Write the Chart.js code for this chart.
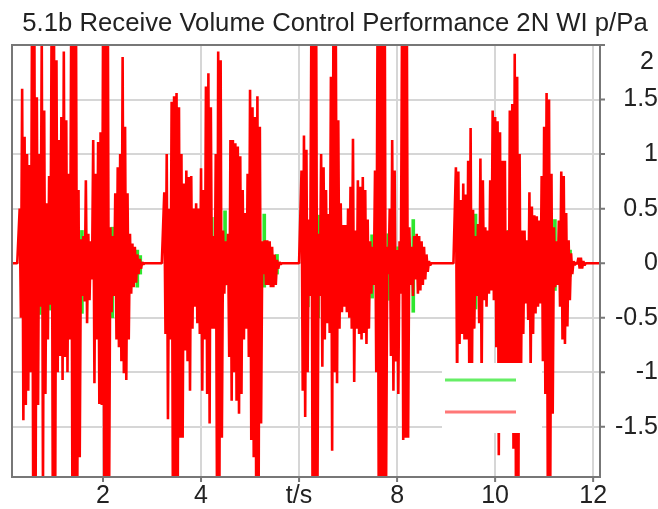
<!DOCTYPE html>
<html><head><meta charset="utf-8">
<script src="https://cdn.jsdelivr.net/npm/chart.js@4/dist/chart.umd.min.js"></script>
<style>html,body{margin:0;padding:0;background:#fff}canvas{display:block}</style>
</head><body>
<canvas id="c" width="658" height="509"></canvas>
<script>
const TITLE = '5.1b Receive Volume Control Performance 2N WI p/Pa';
const X_MIN = 0.143, X_MAX = 12.14;
const Y_MIN = -1.96, Y_MAX = 2.0;
const xTicks = [2, 4, 6, 8, 10, 12];
const xTickLabels = ['2', '4', 't/s', '8', '10', '12'];
const yTicks = [-1.5, -1, -0.5, 0, 0.5, 1, 1.5, 2];
const yTickLabels = ['-1.5', '-1', '-0.5', '0', '0.5', '1', '1.5', '2'];
const STEP = 0.05; // sample spacing of the envelope (s)

// Red trace: envelope peaks (upper / lower) per 0.05 s, per speech burst
const b1Start = 0.30;
const b1Hi = [0.5,1.6,1.16,1.0,0.9,2.1,2.1,1.52,1.0,2.1,1.4,0.55,0.8,2.1,2.1,1.86,1.13,1.34,1.94,1.31,0.82,2.1,2.1,2.1,0.67,0.22,0.25,0.76,0.27,0.2,1.13,0.82,1.11,1.2,2.1,2.1,2.1,0.33,0.25,0.64,0.88,1.0,1.89,1.25,0.64,0.27,0.18,0.15,0.08,0.04,0.01];
const b1Lo = [-0.5,-1.44,-1.3,-1.17,-1.0,-2.1,-2.1,-1.3,-0.4,-2.1,-1.2,-0.7,-0.38,-2.1,-2.1,-1.0,-0.85,-1.07,-0.86,-1.0,-0.7,-2.1,-2.1,-2.1,-1.78,-0.3,-0.35,-0.55,-0.34,-0.15,-1.1,-0.7,-1.29,-1.3,-2.1,-2.1,-2.1,-0.45,-0.3,-0.7,-0.77,-0.9,-1.01,-1.07,-0.7,-0.28,-0.22,-0.18,-0.1,-0.05,-0.01];

const b2Start = 3.25;
const b2Hi = [0.65,1.0,0.5,1.48,1.53,1.56,1.43,1.0,0.73,0.85,0.79,0.8,0.5,0.55,0.5,0.87,0.67,1.62,1.74,1.43,0.25,1.0,1.94,1.86,0.3,0.2,0.27,1.13,1.13,1.1,1.07,0.98,0.67,0.46,0.82,1.59,1.43,1.34,1.53,1.25,0.2,0.21,0.21,0.2,0.15,0.08,0.03,0.01];
const b2Lo = [-0.65,-1.43,-0.7,-2.1,-2.1,-2.1,-1.6,-1.6,-0.8,-0.9,-1.17,-0.6,-0.4,-0.55,-0.65,-1.17,-0.7,-1.2,-1.47,-0.6,-0.6,-2.1,-2.1,-1.6,-0.28,-0.2,-0.86,-1.26,-1.0,-1.26,-1.38,-1.2,-0.7,-0.6,-0.86,-1.62,-1.78,-2.1,-2.1,-1.47,-0.1,-0.2,-0.2,-0.22,-0.22,-0.2,-0.05,-0.01];

const b3Start = 6.05;
const b3Hi = [0.85,1.17,1.04,0.4,2.1,2.1,2.1,0.27,1.0,0.88,0.67,0.45,1.71,2.1,2.1,1.31,0.55,0.35,0.35,0.5,0.7,1.14,0.3,0.76,0.7,0.79,0.67,0.4,0.2,0.15,0.85,2.1,2.1,2.1,2.1,0.15,0.5,1.13,0.85,0.12,0.2,2.1,2.1,2.1,0.33,0.15,0.25,0.27,0.25,0.2,0.15,0.08,0.02];
const b3Lo = [-1.17,-1.41,-1.0,-0.3,-2.1,-2.1,-2.1,-0.3,-0.95,-0.7,-0.55,-0.64,-1.72,-1.0,-1.1,-0.6,-0.45,-0.4,-0.45,-0.5,-0.6,-1.09,-0.6,-0.65,-0.7,-0.64,-0.74,-0.6,-0.28,-0.2,-1.0,-2.1,-2.1,-2.1,-2.1,-0.1,-0.85,-1.17,-0.9,-1.2,-0.28,-1.62,-1.6,-1.6,-0.2,-0.3,-0.15,-0.28,-0.25,-0.2,-0.15,-0.08,-0.02];

const b4Start = 9.20;
const b4Hi = [0.88,0.84,0.58,0.73,0.63,0.94,1.24,0.49,0.25,0.36,0.96,0.76,0.33,0.3,0.76,1.4,1.34,1.3,1.2,0.94,0.94,0.3,1.4,1.46,1.92,1.71,1.0,0.3,0.3,0.21,0.65,0.52,0.44,0.43,0.39,0.8,1.25,1.56,1.5,0.82,0.33,0.2,0.39,0.84,0.8,0.46,0.21,0.09,0.02,0.01,0.05,0.05,0.02];
const b4Lo = [-1.2,-0.74,-0.65,-0.7,-0.7,-1.2,-1.2,-0.6,-0.3,-0.55,-1.1,-0.34,-0.4,-0.28,-0.25,-0.34,-0.77,-1.76,-1.5,-1.2,-1.2,-1.2,-1.2,-1.7,-2.1,-2.1,-1.3,-0.65,-0.37,-0.52,-1.0,-0.65,-0.46,-0.4,-0.37,-0.9,-1.2,-2.1,-2.1,-1.38,-0.22,-0.2,-0.4,-0.7,-0.74,-0.58,-0.34,-0.1,-0.02,-0.01,-0.05,-0.05,-0.02];

// Green trace: only where it shows past the red trace
const greenT  = [0.71,0.92,1.57,2.19,2.70,2.76,4.22,4.49,5.29,5.55,6.18,6.39,7.49,7.82,8.02,8.33,9.60,10.27,11.22,11.53];
const greenHi = [0.2,0.2,0.30,0.33,0.12,0.07,0.42,0.48,0.45,0.08,0.2,0.44,0.26,0.27,0.15,0.4,0.45,0.3,0.4,0.12];
const greenLo = [-0.47,-0.43,-0.46,-0.5,-0.22,-0.1,-0.2,-0.2,-0.22,-0.1,-0.4,-0.5,-0.32,-0.34,-0.2,-0.45,-0.42,-0.3,-0.25,-0.12];

const bursts = [[b1Start,b1Hi,b1Lo],[b2Start,b2Hi,b2Lo],[b3Start,b3Hi,b3Lo],[b4Start,b4Hi,b4Lo]];
const redData = [{x: X_MIN, y: 0}];
bursts.forEach(([s, hi, lo]) => {
  redData.push({x: s - STEP, y: 0});
  hi.forEach((h, i) => {
    const t = s + i * STEP;
    redData.push({x: t, y: h});
    redData.push({x: t + STEP / 2, y: lo[i]});
  });
  redData.push({x: s + hi.length * STEP, y: 0});
});
redData.push({x: X_MAX, y: 0});
const greenData = greenT.map((t, i) => ({x: t, y: [greenLo[i], greenHi[i]]}));

const FONT = '"Liberation Sans", Arial, sans-serif';
const decor = {
  id: 'decor',
  afterDatasetsDraw(chart) {
    const {ctx, chartArea: a} = chart;
    const xs = chart.scales.x, ys = chart.scales.y;
    ctx.save();
    // legend box (no labels)
    const bx1 = a.right - 58, bx0 = bx1 - 100, by1 = a.bottom - 44, by0 = by1 - 70;
    ctx.fillStyle = '#fff';
    ctx.fillRect(bx0, by0, bx1 - bx0, by1 - by0);
    ctx.lineWidth = 3;
    ctx.strokeStyle = '#66ee66';
    ctx.beginPath(); ctx.moveTo(bx0 + 3, by0 + 17); ctx.lineTo(bx0 + 74, by0 + 17); ctx.stroke();
    ctx.strokeStyle = '#ff7777';
    ctx.beginPath(); ctx.moveTo(bx0 + 3, by0 + 49); ctx.lineTo(bx0 + 74, by0 + 49); ctx.stroke();
    // frame
    ctx.strokeStyle = '#777';
    ctx.lineWidth = 2;
    ctx.strokeRect(a.left, a.top, a.right - a.left, a.bottom - a.top);
    // small outward tick marks
    ctx.beginPath();
    yTicks.forEach(v => { const p = ys.getPixelForValue(v); ctx.moveTo(a.right, p); ctx.lineTo(a.right + 5, p); });
    xTicks.forEach(v => { const p = xs.getPixelForValue(v); ctx.moveTo(p, a.bottom); ctx.lineTo(p, a.bottom + 5); });
    ctx.stroke();
    ctx.restore();
  },
  afterDraw(chart) {
    const {ctx} = chart;
    const ys = chart.scales.y;
    ctx.save();
    ctx.font = '25px ' + FONT;
    ctx.fillStyle = '#222';
    ctx.textAlign = 'right';
    ctx.textBaseline = 'middle';
    ctx.fillText(yTickLabels[yTicks.indexOf(Y_MAX)], 654, ys.getPixelForValue(Y_MAX) + 17);
    ctx.restore();
  }
};

new Chart(document.getElementById('c'), {
  data: {
    datasets: [
      {type: 'line', label: 'red', data: redData, borderColor: '#ff0000', borderWidth: 2.6,
       pointRadius: 0, tension: 0, borderJoinStyle: 'bevel', order: 1},
      {type: 'bar', label: 'green', data: greenData, backgroundColor: '#2ee62e',
       barThickness: 3, grouped: false, order: 2}
    ]
  },
  options: {
    responsive: false,
    animation: false,
    events: [],
    layout: {padding: {left: 12, right: 0, top: 0, bottom: 0}},
    plugins: {
      legend: {display: false},
      tooltip: {enabled: false},
      title: {display: true, text: TITLE, color: '#222',
              font: {family: FONT, size: 25.7, weight: 'normal'},
              padding: {top: 8, bottom: 6.16}}
    },
    scales: {
      x: {
        type: 'linear', min: X_MIN, max: X_MAX, offset: false,
        grid: {color: '#d6d6d6', lineWidth: 2, drawTicks: false, offset: false},
        border: {display: false},
        afterBuildTicks: s => { s.ticks = xTicks.map(v => ({value: v})); },
        ticks: {autoSkip: false, maxRotation: 0, padding: 4, color: '#222',
                font: {family: FONT, size: 25},
                callback: v => { const i = xTicks.indexOf(v); return i >= 0 ? xTickLabels[i] : ''; }},
        afterFit: s => { s.height = 32; }
      },
      y: {
        position: 'right', min: Y_MIN, max: Y_MAX,
        grid: {color: '#d6d6d6', lineWidth: 2, drawTicks: false},
        border: {display: false},
        afterBuildTicks: s => { s.ticks = yTicks.map(v => ({value: v})); },
        ticks: {autoSkip: false, padding: 1, crossAlign: 'far', color: '#222',
                font: {family: FONT, size: 25},
                callback: v => (v === Y_MAX ? '' : yTickLabels[yTicks.indexOf(v)])},
        afterFit: s => { s.width = 58; }
      }
    }
  },
  plugins: [decor]
});
</script>
</body></html>
